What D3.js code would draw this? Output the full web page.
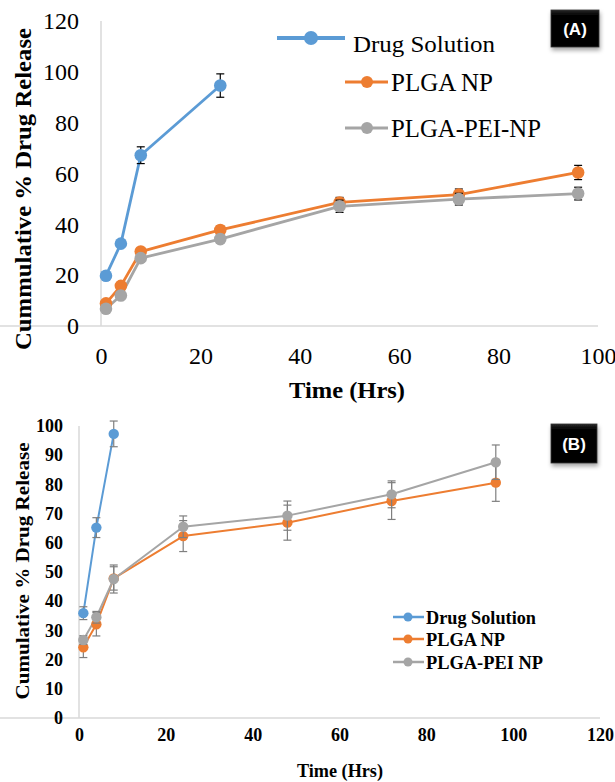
<!DOCTYPE html>
<html>
<head>
<meta charset="utf-8">
<script src="https://cdn.jsdelivr.net/npm/d3@7"></script>
<style>
  body { margin: 0; background: #fff; }
  svg { display: block; }
  svg text { font-family: "Liberation Serif", "Times New Roman", serif; }
  .badge { font-family: "Liberation Sans", Arial, sans-serif !important; }
</style>
</head>
<body>
<div id="chart"></div>
<script>
// panel A data
const timeA = [1, 4, 8, 24, 48, 72, 96];
const drugA = [19.8, 32.4, 67.2, 94.6];
const drugErrA = [0.8, 1, 3.3, 4.6];
const plgaA = [8.9, 15.8, 29.3, 37.8, 48.6, 51.7, 60.4];
const plgaErrA = [0.8, 1, 1.2, 1.5, 2, 2.2, 2.8];
const peiA = [6.8, 12, 26.7, 34.2, 47.1, 49.9, 52.1];
const peiErrA = [0.8, 1, 1, 1.2, 2.4, 2.3, 2.5];
const yTicksA = [0, 20, 40, 60, 80, 100, 120];
const xTicksA = [0, 20, 40, 60, 80, 100];

// panel B data
const timeB = [1, 4, 8, 24, 48, 72, 96];
const drugB = [35.9, 65.2, 97.3];
const drugErrB = [2.2, 3.4, 4.4];
const plgaB = [24.2, 32.1, 47.8, 62.3, 66.9, 74.3, 80.6];
const plgaErrB = [3.5, 4, 4, 5.3, 6, 6.3, 6.4];
const peiB = [26.7, 34.5, 47.6, 65.5, 69.3, 76.6, 87.6];
const peiErrB = [1.5, 2, 4.8, 3.7, 5, 4.6, 5.9];
const yTicksB = [0, 10, 20, 30, 40, 50, 60, 70, 80, 90, 100];
const xTicksB = [0, 20, 40, 60, 80, 100, 120];

const names = ["Drug Solution", "PLGA NP", "PLGA-PEI-NP"];
const namesB = ["Drug Solution", "PLGA NP", "PLGA-PEI NP"];
const colors = ["#5b9bd5", "#ed7d31", "#a5a5a5"];

const SERIF = "'Liberation Serif', 'Times New Roman', serif";

const svg = d3.select("#chart").append("svg")
  .attr("width", 615).attr("height", 782);

const defs = svg.append("defs");
const shadow = defs.append("filter").attr("id", "shadow")
  .attr("x", "-20%").attr("y", "-20%").attr("width", "150%").attr("height", "160%");
shadow.append("feDropShadow").attr("dx", 1).attr("dy", 3)
  .attr("stdDeviation", 2).attr("flood-color", "#000").attr("flood-opacity", 0.35);
const grad = defs.append("linearGradient").attr("id", "boxgrad")
  .attr("x1", 0).attr("y1", 0).attr("x2", 0).attr("y2", 1);
grad.append("stop").attr("offset", "0%").attr("stop-color", "#2a2a2a");
grad.append("stop").attr("offset", "15%").attr("stop-color", "#000");
grad.append("stop").attr("offset", "100%").attr("stop-color", "#000");

function toPts(xs, ys, es) {
  return ys.map((v, i) => ({ x: xs[i], y: v, e: es[i] }));
}

function drawPanel(p) {
  const g = svg.append("g");
  const x = p.x, y = p.y;

  const xAxis = d3.axisBottom(x).tickValues(p.xTicks).tickSize(0).tickPadding(p.xPad);
  const yAxis = d3.axisLeft(y).tickValues(p.yTicks).tickSize(0).tickPadding(p.yPad);

  const gx = g.append("g").attr("transform", `translate(0,${y(0)})`).call(xAxis);
  const gy = g.append("g").attr("transform", `translate(${x(0)},0)`).call(yAxis);
  [gx, gy].forEach(a => {
    a.attr("font-family", SERIF).attr("font-size", p.tickSize)
      .attr("font-weight", p.bold ? "bold" : "normal");
    a.select(".domain").attr("stroke", "#d9d9d9").attr("stroke-width", 1.5);
    a.selectAll("text")
      .attr("fill", "#000")
      .attr("font-family", SERIF)
      .style("font-size", p.tickSize + "px")
      .style("font-weight", p.bold ? "bold" : "normal");
  });
  gy.select(".domain").attr("d", `M0,${y(0)}V${y(p.yTicks[p.yTicks.length - 1])}`);
  gx.select(".domain").attr("d", `M0,0H${x.range()[1]}`);

  // series
  p.series.forEach((s, k) => {
    const pts = toPts(p.times, s.vals, s.errs);
    const line = d3.line().x(d => x(d.x)).y(d => y(d.y));
    g.append("path").datum(pts)
      .attr("fill", "none").attr("stroke", colors[k])
      .attr("stroke-width", p.lineW).attr("stroke-linejoin", "round")
      .attr("d", line);
  });
  p.series.forEach((s, k) => {
    const pts = toPts(p.times, s.vals, s.errs);
    const eb = g.append("g").attr("stroke", p.errColor).attr("stroke-width", 1.2);
    pts.forEach(d => {
      eb.append("line").attr("x1", x(d.x)).attr("x2", x(d.x))
        .attr("y1", y(d.y - d.e)).attr("y2", y(d.y + d.e));
      [d.y - d.e, d.y + d.e].forEach(v => {
        eb.append("line").attr("x1", x(d.x) - 4).attr("x2", x(d.x) + 4)
          .attr("y1", y(v)).attr("y2", y(v));
      });
    });
    g.append("g").selectAll("circle").data(pts).join("circle")
      .attr("cx", d => x(d.x)).attr("cy", d => y(d.y))
      .attr("r", p.markR).attr("fill", colors[k]);
  });

  // axis titles
  g.append("text")
    .attr("transform", `translate(${p.yTitle.x},${p.yTitle.y}) rotate(-90)`)
    .attr("text-anchor", "middle")
    .attr("textLength", p.yTitle.len).attr("lengthAdjust", "spacingAndGlyphs")
    .style("font-weight", "bold").style("font-size", p.yTitle.size + "px")
    .text(p.yTitle.text);
  g.append("text")
    .attr("x", p.xTitle.x).attr("y", p.xTitle.y)
    .attr("text-anchor", "middle")
    .attr("textLength", p.xTitle.len).attr("lengthAdjust", "spacingAndGlyphs")
    .style("font-weight", "bold").style("font-size", p.xTitle.size + "px")
    .text(p.xTitle.text);

  // panel badge
  const b = p.badge;
  g.append("rect").attr("x", b.x).attr("y", b.y).attr("width", b.w).attr("height", b.h)
    .attr("fill", "url(#boxgrad)").attr("stroke", "#333").attr("stroke-width", 0.8)
    .attr("filter", "url(#shadow)");
  g.append("text").attr("class", "badge")
    .attr("x", b.x + b.w / 2).attr("y", b.y + b.h / 2 + 6)
    .attr("text-anchor", "middle").attr("fill", "#fff")
    .style("font-weight", "bold").style("font-size", "17px")
    .text(b.text);

  // legend
  p.legend.forEach((l, k) => {
    g.append("line").attr("x1", l.x1).attr("x2", l.x2).attr("y1", l.y).attr("y2", l.y)
      .attr("stroke", colors[k]).attr("stroke-width", l.w);
    g.append("circle").attr("cx", l.cx).attr("cy", l.y).attr("r", l.r).attr("fill", colors[k]);
    g.append("text").attr("x", l.tx).attr("y", l.ty)
      .attr("textLength", l.len).attr("lengthAdjust", "spacingAndGlyphs")
      .style("font-weight", p.bold ? "bold" : "normal")
      .style("font-size", l.size + "px")
      .text(l.text);
  });
}

drawPanel({
  x: d3.scaleLinear().domain([0, 100]).range([101, 598]),
  y: d3.scaleLinear().domain([0, 120]).range([326, 21]),
  xTicks: xTicksA, yTicks: yTicksA,
  xPad: 21, yPad: 22, tickSize: 24, bold: false,
  times: timeA,
  series: [
    { vals: drugA, errs: drugErrA },
    { vals: plgaA, errs: plgaErrA },
    { vals: peiA, errs: peiErrA }
  ],
  lineW: 2.8, markR: 6.3, errColor: "#000",
  yTitle: { x: 31, y: 189, len: 322, size: 24, text: "Cummulative % Drug Release" },
  xTitle: { x: 347, y: 398, len: 116, size: 24, text: "Time (Hrs)" },
  badge: { x: 551, y: 10, w: 48, h: 37, text: "(A)" },
  legend: [
    { x1: 277, x2: 345, cx: 311, y: 38, r: 7, w: 4, tx: 353, ty: 52, len: 142, size: 24, text: names[0] },
    { x1: 345, x2: 388, cx: 367, y: 82, r: 6, w: 3, tx: 391, ty: 91, len: 102, size: 25, text: names[1] },
    { x1: 345, x2: 388, cx: 367, y: 128, r: 6, w: 3, tx: 391, ty: 137, len: 150, size: 25, text: names[2] }
  ]
});

drawPanel({
  x: d3.scaleLinear().domain([0, 120]).range([79, 600]),
  y: d3.scaleLinear().domain([0, 100]).range([718, 426]),
  xTicks: xTicksB, yTicks: yTicksB,
  xPad: 10, yPad: 16, tickSize: 18, bold: true,
  times: timeB,
  series: [
    { vals: drugB, errs: drugErrB },
    { vals: plgaB, errs: plgaErrB },
    { vals: peiB, errs: peiErrB }
  ],
  lineW: 2, markR: 5.2, errColor: "#7f7f7f",
  yTitle: { x: 29, y: 571, len: 257, size: 18, text: "Cumulative % Drug Release" },
  xTitle: { x: 340, y: 777, len: 86, size: 18, text: "Time (Hrs)" },
  badge: { x: 551, y: 424, w: 46, h: 39, text: "(B)" },
  legend: [
    { x1: 393, x2: 424, cx: 408, y: 617, r: 4.5, w: 2.5, tx: 426, ty: 624, len: 110, size: 19, text: namesB[0] },
    { x1: 393, x2: 424, cx: 408, y: 639, r: 4.5, w: 2.5, tx: 426, ty: 646, len: 79, size: 19, text: namesB[1] },
    { x1: 393, x2: 424, cx: 408, y: 662, r: 4.5, w: 2.5, tx: 426, ty: 669, len: 117, size: 19, text: namesB[2] }
  ]
});
</script>
</body>
</html>
